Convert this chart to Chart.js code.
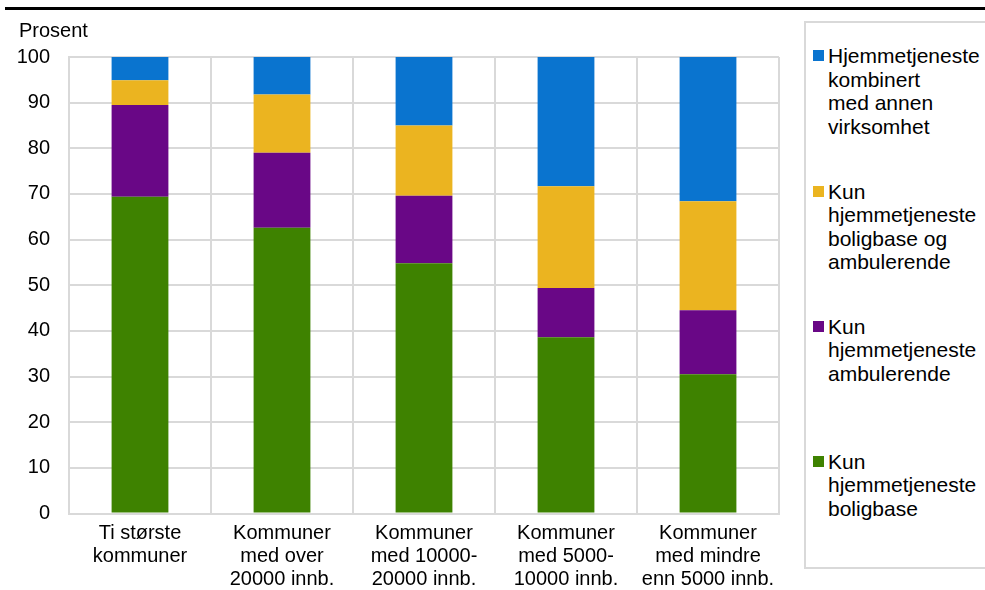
<!DOCTYPE html>
<html lang="no">
<head>
<meta charset="utf-8">
<title>Hjemmetjenester etter kommunestørrelse</title>
<script src="https://cdn.jsdelivr.net/npm/chart.js@4.4.1/dist/chart.umd.min.js"></script>
<style>
  html, body { margin: 0; padding: 0; background: #fff; overflow: hidden; }
  body { width: 985px; height: 590px; position: relative; font-family: 'Liberation Sans', Arial, sans-serif; }
  #topLine { position: absolute; left: 5px; top: 7px; width: 980px; height: 3px; background: #000; }
  #chartBox { position: absolute; left: 0; top: 0; width: 800px; height: 590px; }
  #legend { position: absolute; left: 804px; top: 21px; width: 200px; height: 548px;
            border: 2px solid #d9d9d9; box-sizing: border-box; }
  .item { position: absolute; left: 0; font-size: 21px; line-height: 23.5px; color: #000; }
  .swatch { position: absolute; left: 7px; top: 6px; width: 11px; height: 11px; }
  .text { position: absolute; left: 22px; top: 0; white-space: nowrap; }
</style>
</head>
<body>
<div id="topLine"></div>
<div id="chartBox"><canvas id="chart"></canvas></div>
<div id="legend"></div>

<script>
// Kategorier (kommunestørrelse), én linje per element
const kategorier = [
    ['Ti største', 'kommuner'],
    ['Kommuner', 'med over', '20000 innb.'],
    ['Kommuner', 'med 10000-', '20000 innb.'],
    ['Kommuner', 'med 5000-', '10000 innb.'],
    ['Kommuner', 'med mindre', 'enn 5000 innb.']
];

// Andeler i prosent, stablet nedenfra og opp
const kunBoligbase = [69.4, 62.6, 54.8, 38.6, 30.5];
const kunAmbulerende = [20.1, 16.4, 14.8, 10.8, 14.0];
const boligbaseOgAmbulerende = [5.4, 12.8, 15.4, 22.3, 23.9];
const kombinertAnnen = [5.1, 8.2, 15.0, 28.3, 31.6];

// Tegnforklaring, linjeskift som i figuren
const navnBoligbase = ['Kun', 'hjemmetjeneste', 'boligbase'];
const navnAmbulerende = ['Kun', 'hjemmetjeneste', 'ambulerende'];
const navnBegge = ['Kun', 'hjemmetjeneste', 'boligbase og', 'ambulerende'];
const navnKombinert = ['Hjemmetjeneste', 'kombinert', 'med annen', 'virksomhet'];

const FONT = "'Liberation Sans', Arial, sans-serif";
const GRID = '#d9d9d9';

const datasets = [
    { label: navnBoligbase, data: kunBoligbase, backgroundColor: '#3e8200' },
    { label: navnAmbulerende, data: kunAmbulerende, backgroundColor: '#690786' },
    { label: navnBegge, data: boligbaseOgAmbulerende, backgroundColor: '#ebb420' },
    { label: navnKombinert, data: kombinertAnnen, backgroundColor: '#0a74cf' }
].map(ds => ({
    label: ds.label.join(' '),
    lines: ds.label,
    data: ds.data,
    backgroundColor: ds.backgroundColor,
    borderWidth: 0,
    barPercentage: 0.4,
    categoryPercentage: 1.0
}));

// "Prosent" over y-aksen
const enhetPlugin = {
    id: 'enhet',
    afterDraw(chart) {
        const { ctx, chartArea } = chart;
        ctx.save();
        ctx.font = '20px ' + FONT;
        ctx.fillStyle = '#000';
        ctx.textAlign = 'left';
        ctx.textBaseline = 'alphabetic';
        ctx.fillText('Prosent', chartArea.left - 50, chartArea.top - 20);
        ctx.restore();
    }
};

const chart = new Chart(document.getElementById('chart').getContext('2d'), {
    type: 'bar',
    data: { labels: kategorier, datasets: datasets },
    options: {
        responsive: true,
        maintainAspectRatio: false,
        animation: false,
        layout: { padding: { left: 17, top: 57, right: 21, bottom: 0 } },
        plugins: {
            legend: { display: false },
            tooltip: { enabled: false }
        },
        scales: {
            x: {
                stacked: true,
                afterFit(scale) { scale.height = 76.5; },
                grid: { color: GRID, lineWidth: 2, drawTicks: false, offset: true },
                border: { color: GRID, width: 2 },
                ticks: {
                    color: '#000',
                    padding: 8,
                    maxRotation: 0,
                    autoSkip: false,
                    font: { family: FONT, size: 20, lineHeight: 1.165 }
                }
            },
            y: {
                stacked: true,
                min: 0,
                max: 100,
                afterFit(scale) { scale.width = 52; },
                grid: { color: GRID, lineWidth: 2, drawTicks: false },
                border: { color: GRID, width: 2 },
                ticks: {
                    stepSize: 10,
                    color: '#000',
                    padding: 19,
                    font: { family: FONT, size: 20 }
                }
            }
        }
    },
    plugins: [enhetPlugin]
});

// Tegnforklaring i ramme til høyre, øverste serie først
const legendEl = document.getElementById('legend');
chart.data.datasets.slice().reverse().forEach((ds, i) => {
    const item = document.createElement('div');
    item.className = 'item';
    item.style.top = (21.3 + i * 135.2) + 'px';
    const sw = document.createElement('div');
    sw.className = 'swatch';
    sw.style.background = ds.backgroundColor;
    const txt = document.createElement('div');
    txt.className = 'text';
    txt.innerHTML = ds.lines.join('<br>');
    item.appendChild(sw);
    item.appendChild(txt);
    legendEl.appendChild(item);
});
</script>
</body>
</html>
